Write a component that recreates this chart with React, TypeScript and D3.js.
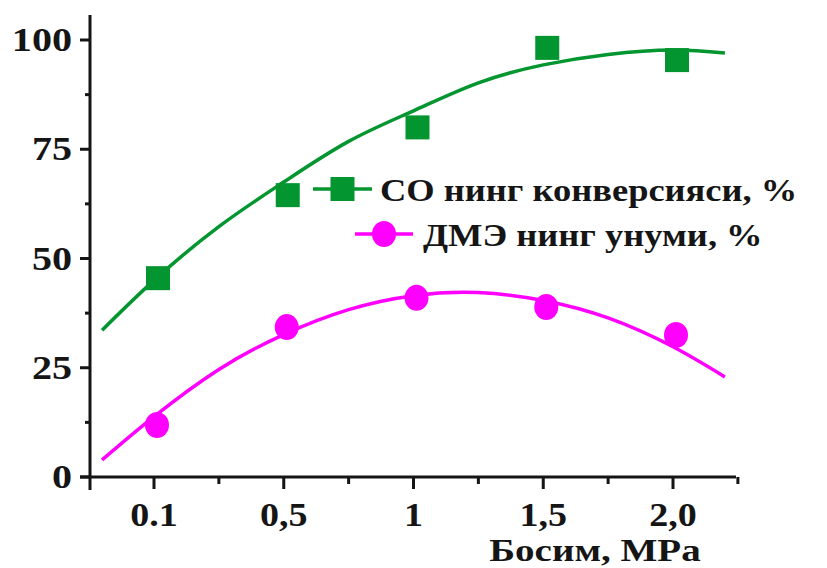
import { useEffect, useRef } from 'react';
import * as d3 from 'd3';

const W = 827;
const H = 568;

// pressure, MPa (evenly spaced categories)
const pressures = ['0.1', '0,5', '1', '1,5', '2,0'];
// measured points
const coConversion = [45.5, 64.5, 80, 98.2, 95.4];
const dmeYield = [11.9, 34.3, 41, 38.9, 32.5];
// trend curves (category index -> %)
const fitIndex = [-0.4, 0, 0.5, 1, 1.5, 2, 2.5, 3, 3.5, 4, 4.4];
const coFit = [33.6, 45, 57.3, 67.5, 76.8, 83.8, 90.2, 94.3, 96.7, 97.7, 97];
const dmeFit = [3.9, 13.8, 24.6, 32.6, 38.3, 41.5, 42.2, 40.4, 36.4, 29.8, 22.9];
const yTicks = [0, 25, 50, 75, 100];
const legendLabels = ['СО нинг конверсияси, %', 'ДМЭ нинг унуми, %'];

const GREEN = '#03952f';
const MAGENTA = '#ff00ff';
const INK = '#151515';
const FONT = '"Liberation Serif", "Times New Roman", serif';

type Sel = d3.Selection<SVGGElement, unknown, null, undefined>;

// bold serif text, stretched a bit wider like the original scan
function label(g: Sel, x: number, y: number, txt: string, size: number, anchor: string, sx: number) {
  g.append('text')
    .attr('transform', `translate(${x},${y}) scale(${sx},1)`)
    .attr('text-anchor', anchor).attr('font-family', FONT).attr('font-weight', 700)
    .attr('font-size', size).attr('fill', INK).text(txt);
}

export default function App() {
  const svgRef = useRef<SVGSVGElement | null>(null);

  useEffect(() => {
    const svg = d3.select(svgRef.current);
    svg.selectAll('*').remove();

    const x = d3.scaleLinear().domain([0, 4]).range([154, 673]);
    const y = d3.scaleLinear().domain([0, 100]).range([477, 40]);
    const x0 = 90;
    const xEnd = 736;

    const g = svg.append('g') as unknown as Sel;

    // axes
    g.append('line').attr('x1', x0).attr('x2', x0).attr('y1', 15).attr('y2', 490)
      .attr('stroke', INK).attr('stroke-width', 3);
    g.append('line').attr('x1', x0 - 10).attr('x2', xEnd).attr('y1', y(0)).attr('y2', y(0))
      .attr('stroke', INK).attr('stroke-width', 3);

    // y ticks (major + minor)
    d3.range(0, 101, 12.5).forEach(v => {
      const major = v % 25 === 0;
      g.append('line').attr('x1', x0).attr('x2', x0 - (major ? 10 : 5))
        .attr('y1', y(v)).attr('y2', y(v)).attr('stroke', INK).attr('stroke-width', 3);
    });
    yTicks.forEach(v => label(g, 72, y(v) + 11, String(v), 34, 'end', 1.18));

    // x ticks
    d3.range(0, 4.51, 0.5).forEach(v => {
      const major = v % 1 === 0;
      g.append('line').attr('x1', x(v)).attr('x2', x(v))
        .attr('y1', y(0)).attr('y2', y(0) + (major ? 12 : 7)).attr('stroke', INK).attr('stroke-width', 3);
    });
    pressures.forEach((p, i) => label(g, x(i), 526, p, 34, 'middle', 1.12));
    label(g, 595, 561, 'Босим, МРа', 32, 'middle', 1.22);

    // trend curves
    const line = d3.line<number>().x((_, i) => x(fitIndex[i])).y(d => y(d)).curve(d3.curveNatural);
    g.append('path').attr('d', line(coFit)).attr('fill', 'none').attr('stroke', GREEN).attr('stroke-width', 3.5);
    g.append('path').attr('d', line(dmeFit)).attr('fill', 'none').attr('stroke', MAGENTA).attr('stroke-width', 3.5);

    // markers
    const S = 24;
    g.selectAll('rect.co').data(coConversion).join('rect')
      .attr('x', (_, i) => x(i) + 4 - S / 2).attr('y', d => y(d) - S / 2)
      .attr('width', S).attr('height', S).attr('fill', GREEN);
    g.selectAll('ellipse.dme').data(dmeYield).join('ellipse')
      .attr('cx', (_, i) => x(i) + 3).attr('cy', d => y(d))
      .attr('rx', 12).attr('ry', 13).attr('fill', MAGENTA);

    // legend
    const lg = g.append('g') as unknown as Sel;
    const rows = [
      { lx1: 313, lx2: 372, cy: 189, tx: 380, color: GREEN, shape: 'rect' },
      { lx1: 355, lx2: 413, cy: 234, tx: 423, color: MAGENTA, shape: 'circle' },
    ];
    rows.forEach((r, i) => {
      lg.append('line').attr('x1', r.lx1).attr('x2', r.lx2).attr('y1', r.cy).attr('y2', r.cy)
        .attr('stroke', r.color).attr('stroke-width', 3.5);
      const cx = (r.lx1 + r.lx2) / 2;
      if (r.shape === 'rect') {
        lg.append('rect').attr('x', cx - S / 2).attr('y', r.cy - S / 2).attr('width', S).attr('height', S).attr('fill', r.color);
      } else {
        lg.append('ellipse').attr('cx', cx).attr('cy', r.cy).attr('rx', 12).attr('ry', 13).attr('fill', r.color);
      }
      label(lg, r.tx, r.cy + 12, legendLabels[i], 32, 'start', 1.14);
    });
  }, []);

  return (
    <div style={{ position: 'fixed', left: 0, top: 0, width: W, height: H, background: '#fff' }}>
      <svg ref={svgRef} width={W} height={H} style={{ display: 'block' }} />
    </div>
  );
}
